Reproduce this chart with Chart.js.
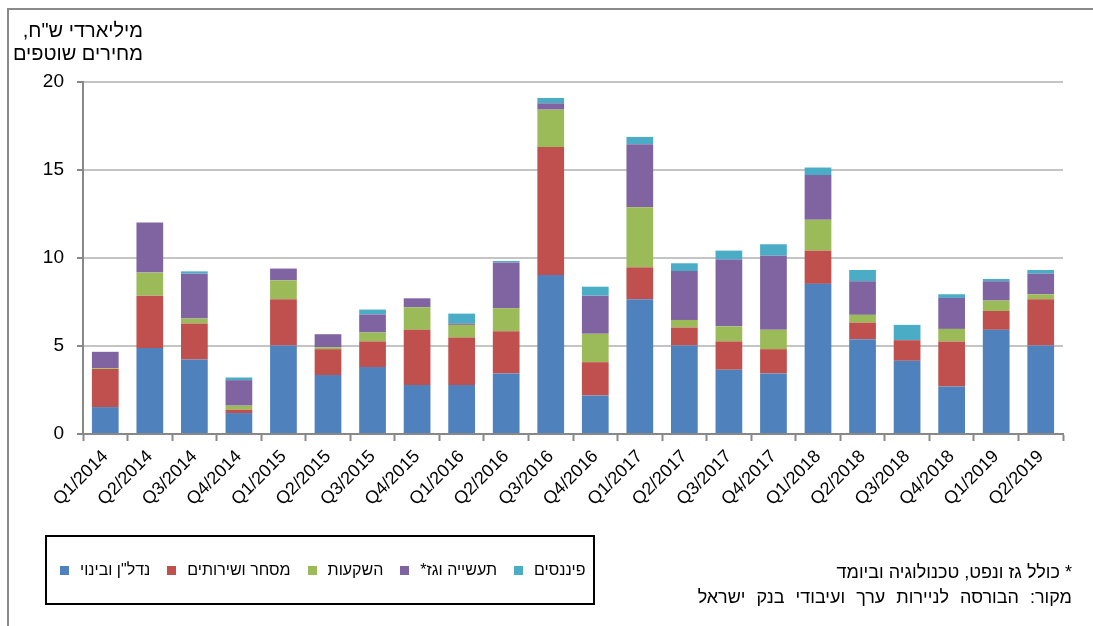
<!DOCTYPE html>
<html><head><meta charset="utf-8">
<script src="https://cdn.jsdelivr.net/npm/chart.js@4"></script>
<style>
html,body{margin:0;padding:0;background:#fff;}
body{width:1093px;height:626px;position:relative;overflow:hidden;font-family:"Liberation Sans",Arial,sans-serif;color:#000;}
#frame{position:absolute;left:7px;top:8px;width:1200px;height:800px;border:2px solid #8a8a8a;box-sizing:border-box;}
#c{position:absolute;left:0;top:0;}
#ytitle{position:absolute;right:950px;top:19px;direction:rtl;text-align:right;font-size:20px;line-height:23px;white-space:nowrap;}
#legend{position:absolute;left:45px;top:535px;width:550px;height:70px;border:2px solid #000;box-sizing:border-box;display:flex;align-items:center;padding-left:13px;direction:ltr;}
.li{display:flex;align-items:center;margin-right:17px;font-size:16px;white-space:nowrap;}
.sw{width:9px;height:9px;margin-right:11px;display:inline-block;}
#note{position:absolute;right:21px;top:560px;direction:rtl;text-align:right;font-size:18px;line-height:25px;white-space:nowrap;}
#note .l2{word-spacing:6px;}
</style></head>
<body>
<div id="frame"></div>
<canvas id="c" width="1093" height="626"></canvas>
<div id="ytitle">מיליארדי ש"ח,<br>מחירים שוטפים</div>
<div id="legend"></div>
<div id="note">* כולל גז ונפט, טכנולוגיה וביומד<br><span class="l2">מקור: הבורסה לניירות ערך ועיבודי בנק ישראל</span></div>
<script>
const categories = ["Q1/2014","Q2/2014","Q3/2014","Q4/2014","Q1/2015","Q2/2015","Q3/2015","Q4/2015","Q1/2016","Q2/2016","Q3/2016","Q4/2016","Q1/2017","Q2/2017","Q3/2017","Q4/2017","Q1/2018","Q2/2018","Q3/2018","Q4/2018","Q1/2019","Q2/2019"];
const seriesNames = ['נדל"ן ובינוי','מסחר ושירותים','השקעות','תעשייה וגז*','פיננסים'];
const realEstate = [1.53,4.88,4.23,1.19,5.03,3.35,3.80,2.78,2.78,3.44,9.04,2.19,7.66,5.03,3.65,3.44,8.53,5.39,4.16,2.70,5.92,5.03];
const commerce   = [2.16,2.98,2.05,0.19,2.63,1.47,1.46,3.14,2.70,2.40,7.27,1.89,1.81,1.02,1.61,1.38,1.89,0.94,1.17,2.56,1.07,2.63];
const investment = [0.05,1.31,0.28,0.23,1.07,0.11,0.51,1.28,0.72,1.31,2.12,1.61,3.42,0.43,0.86,1.10,1.75,0.44,0.00,0.71,0.59,0.28];
const industry   = [0.93,2.85,2.55,1.45,0.67,0.74,1.02,0.51,0.08,2.60,0.36,2.17,3.58,2.78,3.79,4.21,2.54,1.91,0.00,1.76,1.10,1.17];
const finance    = [0.00,0.00,0.13,0.15,0.00,0.00,0.28,0.00,0.56,0.08,0.30,0.51,0.41,0.44,0.51,0.65,0.43,0.64,0.87,0.21,0.13,0.21];
const yTicks = [0,5,10,15,20];
const colors = ['#4F81BD','#C0504D','#9BBB59','#8064A2','#4BACC6'];
const seriesValues = [realEstate, commerce, investment, industry, finance];

const FAM = '"Liberation Sans", Arial, sans-serif';
const chart = new Chart(document.getElementById('c'), {
  type:'bar',
  data:{
    labels:categories,
    datasets: seriesValues.map((v,i)=>({label:seriesNames[i], data:v, backgroundColor:colors[i], borderWidth:0, barPercentage:0.6, categoryPercentage:1.0}))
  },
  options:{
    responsive:false, animation:false, devicePixelRatio:1,
    layout:{padding:{left:0,right:30,top:82,bottom:101}},
    plugins:{legend:{display:false}, tooltip:{enabled:false}},
    scales:{
      x:{stacked:true,
        grid:{drawOnChartArea:false, drawTicks:true, tickLength:7, tickColor:'#888', tickWidth:2, offset:true},
        border:{color:'#888', width:2},
        ticks:{autoSkip:false, minRotation:45, maxRotation:45, color:'#000', font:{size:18, family:FAM}, padding:5},
        afterFit(s){ s.height = 91; }
      },
      y:{stacked:true, min:0, max:20,
        afterBuildTicks(s){ s.ticks = yTicks.map(v=>({value:v})); },
        ticks:{color:'#000', font:{size:19, family:FAM}, padding:13},
        grid:{color:'#c4c4c4', lineWidth:2, tickLength:6, tickColor:'#888', tickWidth:2},
        border:{color:'#888', width:2},
        afterFit(s){ s.width = 83; }
      }
    }
  }
});

const lg = document.getElementById('legend');
chart.data.datasets.forEach(ds=>{
  const it = document.createElement('div'); it.className='li';
  const sw = document.createElement('span'); sw.className='sw'; sw.style.background = ds.backgroundColor;
  const tx = document.createElement('span'); tx.dir='rtl'; tx.textContent = ds.label;
  it.appendChild(sw); it.appendChild(tx); lg.appendChild(it);
});
</script>
</body></html>
